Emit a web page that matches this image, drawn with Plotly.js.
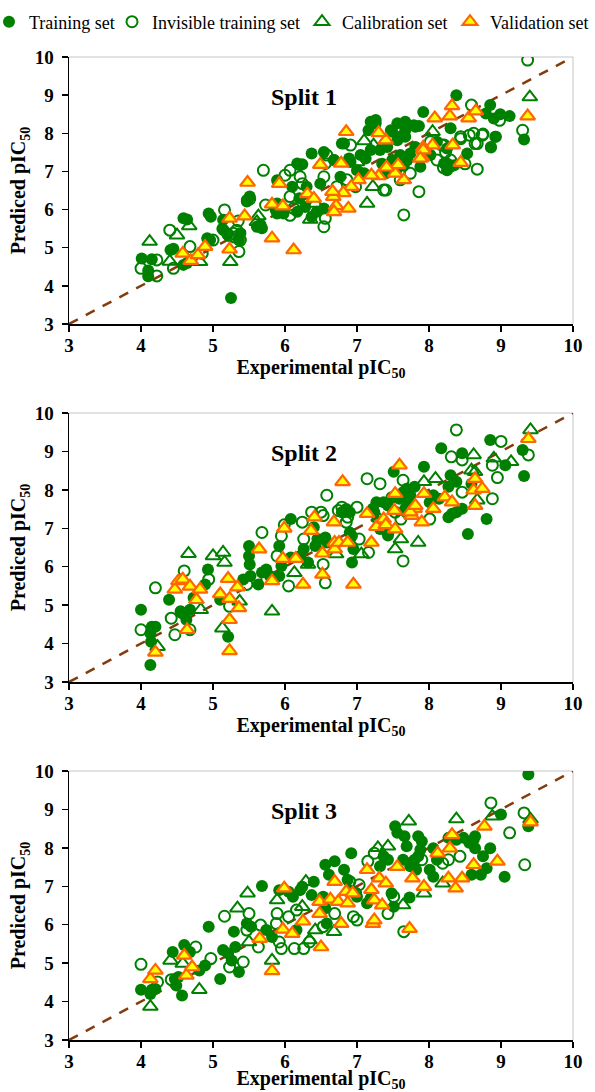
<!DOCTYPE html>
<html><head><meta charset="utf-8">
<script src="https://cdn.plot.ly/plotly-3.0.1.min.js"></script>
<style>html,body{margin:0;padding:0;background:#fff}#chart{width:595px;height:1092px}</style>
</head><body><div id="chart"></div>
<script>
// ---------- DATA: [experimental, predicted] ----------
const split1Training = [[4.01,4.72],[4.10,4.40],[4.10,4.25],[4.15,4.70],[4.41,4.94],[4.45,4.97],[4.59,5.77],[4.64,5.74],[4.59,4.55],[4.64,4.60],[4.92,5.25],[4.96,5.20],[4.94,5.90],[4.97,5.81],[5.14,5.73],[5.13,5.50],[5.15,5.46],[5.25,3.68],[5.36,5.20],[5.38,5.38],[5.47,6.21],[5.51,6.34],[5.61,5.55],[5.66,5.60],[5.68,5.51],[5.89,6.77],[5.89,5.90],[6.10,6.60],[6.17,7.21],[6.21,7.16],[6.30,6.60],[6.20,6.30],[6.49,6.68],[6.28,6.07],[6.44,5.94],[6.54,6.03],[6.37,5.81],[5.87,5.99],[5.89,6.16],[5.98,5.90],[6.17,5.94],[5.20,5.35],[5.47,6.25],
[9.32,7.84],[8.38,9.00],[8.85,8.74],[8.99,8.50],[9.12,8.45],[8.90,8.39],[8.79,8.52],[8.92,7.91],[8.86,7.63],[8.53,7.47],[8.30,8.13],[8.25,7.21],[8.35,7.16],[8.11,7.78],[7.92,8.56],[7.86,8.19],[7.67,8.30],[7.79,8.21],[7.67,8.08],[7.56,8.26],[7.47,8.08],[7.60,7.91],[6.82,7.73],[6.37,7.47],[6.24,7.19],[6.68,7.30],[6.89,7.34],[7.19,8.30],[7.26,8.35],[7.16,8.08],[6.77,6.86],[8.02,7.43],[8.25,7.03],[7.26,8.26],[7.81,8.17],[7.49,8.04],[6.79,7.73],[8.86,7.64],[8.93,7.91],[8.25,7.60],[8.21,7.21],[8.30,7.12],[7.74,7.47],[7.88,7.12],[7.70,7.30],[7.60,7.43],[7.49,7.30],[7.81,7.64],[7.97,7.51],[7.56,7.82],[7.67,7.91],[7.42,7.64],[7.32,7.56],[6.54,7.51],[6.68,7.30],[7.00,7.03],[7.12,7.34],[7.19,7.56],[6.91,7.25],[7.05,7.43],[7.35,7.20],[7.55,7.05],[7.65,7.15],[7.40,6.95],[7.10,6.95]];
const split1Invisible = [[4.00,4.46],[4.22,4.68],[4.22,4.26],[4.40,5.46],[4.45,4.46],[4.68,5.03],[4.85,4.85],[5.00,5.20],[5.16,5.99],[5.22,5.32],[5.28,5.38],[5.30,5.28],[5.36,4.90],[5.35,5.70],[5.51,6.28],[5.70,7.03],[5.73,6.12],[6.07,7.03],[6.07,6.34],[6.07,5.85],[5.33,5.46],[5.38,5.20],[6.21,6.86],[6.24,6.68],[6.00,6.90],[6.12,6.03],[6.56,5.77],[6.54,5.55],
[9.37,9.92],[9.30,8.08],[8.59,8.74],[8.98,8.34],[8.75,7.98],[8.64,7.73],[8.67,7.06],[8.56,7.95],[8.44,7.91],[8.20,7.10],[8.18,7.69],[7.86,6.47],[7.65,5.86],[7.40,6.51],[6.91,7.69],[6.58,7.43],[6.54,6.86],[6.72,6.60],[8.30,7.30],[8.23,7.50],[8.62,8.00],[8.74,7.95],[8.67,7.73],[8.44,7.86],[8.50,7.20],[6.56,7.21],[6.86,6.78],[6.98,6.60],[7.37,6.51],[7.60,6.78],[7.74,6.95],[8.02,7.78],[8.11,7.30],[8.21,7.69]];
const split1Calibration = [[4.12,5.16],[4.50,5.33],[4.40,4.64],[4.67,5.57],[4.82,4.63],[5.24,4.63],[5.63,5.83],[5.61,5.68],[7.14,6.16],[7.22,6.60],[7.10,7.80],[9.40,8.95],[6.35,5.74],[6.42,6.16],[8.05,8.04],[7.00,7.25],[7.23,7.69]];
const split1Validation = [[4.58,4.85],[4.69,4.66],[4.79,4.81],[4.89,5.03],[5.23,5.77],[5.23,4.96],[5.44,5.83],[5.48,6.71],[5.82,5.25],[5.82,6.14],[5.97,6.09],[5.92,6.68],[6.12,4.94],[9.37,8.45],[8.32,8.72],[8.29,8.45],[8.08,8.40],[8.55,8.40],[8.65,8.58],[8.33,7.69],[8.44,7.23],[8.05,7.69],[7.92,7.63],[7.90,7.37],[7.65,6.78],[7.53,6.95],[7.57,7.17],[7.41,7.11],[7.30,6.88],[7.20,6.90],[7.40,7.82],[7.30,8.01],[7.02,6.78],[6.92,6.60],[6.81,6.44],[6.88,6.03],[6.71,6.10],[6.67,6.34],[6.66,6.47],[6.68,5.94],[6.78,7.21],[6.49,7.18],[6.31,6.41],[6.40,6.29],[7.92,7.56],[7.88,7.34],[6.85,8.04]];

const split2Training = [[4.00,4.88],[4.13,3.44],[4.14,4.05],[4.13,4.27],[4.15,4.44],[4.20,4.44],[4.39,5.14],[4.55,4.84],[4.57,4.79],[4.63,4.62],[4.68,4.88],[4.73,5.19],[4.89,5.54],[4.93,5.93],[5.10,5.14],[5.21,4.18],[5.50,6.54],[5.50,6.28],[5.51,6.06],[5.42,5.67],[5.52,5.76],[5.63,5.54],[5.68,5.85],[5.74,5.93],[5.79,5.76],[5.92,5.76],[5.95,6.02],[5.92,6.54],[6.08,7.24],[6.08,6.24],[6.21,6.28],[6.32,6.11],[6.26,6.46],[6.40,7.03],[6.45,6.72],[6.42,6.54],[6.56,6.76],[6.58,6.63],[6.69,6.54],[6.79,7.42],[6.85,7.50],[6.90,7.42],[6.90,6.89],[6.93,6.80],[6.95,6.46],[6.93,6.11],[7.22,7.51],[7.27,7.68],[7.32,6.98],[7.37,7.68],[7.43,7.59],[7.48,7.81],[7.51,8.47],[7.59,7.77],[7.64,7.94],[7.69,8.03],[7.74,7.86],[7.80,8.08],[7.72,7.68],[7.67,7.51],[7.93,8.60],[8.06,7.86],[8.14,7.77],[8.01,7.68],[8.17,9.08],[8.27,7.29],[8.32,7.38],[8.38,7.42],[8.30,8.38],[8.27,8.08],[8.38,8.21],[8.46,8.95],[8.46,7.51],[8.54,6.85],[8.59,8.16],[8.85,9.30],[8.80,7.24],[9.06,8.64],[9.30,9.04],[9.32,8.36],[7.24,7.42],[7.32,7.16],[7.37,6.98],[7.43,6.81]];
const split2Invisible = [[4.00,4.36],[4.20,5.45],[4.42,4.66],[4.47,4.23],[4.60,5.89],[4.68,4.36],[4.94,5.67],[5.23,4.97],[5.47,5.54],[5.68,6.89],[5.89,6.28],[6.05,5.50],[5.95,6.80],[5.99,7.09],[6.24,7.16],[6.26,6.72],[6.37,7.42],[6.50,7.42],[6.53,7.33],[6.53,6.06],[6.56,5.58],[6.58,7.86],[6.74,7.46],[6.79,7.55],[6.85,7.16],[6.87,7.29],[7.00,7.55],[7.03,6.72],[7.14,8.29],[7.32,8.16],[7.16,6.37],[7.29,7.24],[7.64,6.15],[7.64,8.25],[7.53,7.42],[7.69,7.42],[7.61,7.24],[8.01,7.24],[8.31,8.86],[8.38,9.56],[8.46,8.78],[8.46,7.94],[9.00,9.26],[8.88,8.64],[8.95,8.32],[8.88,7.77],[9.38,8.91],[7.43,6.89]];
const split2Calibration = [[4.23,3.92],[4.66,6.34],[4.83,4.88],[5.00,6.28],[5.13,4.40],[5.14,6.37],[5.16,6.11],[5.37,5.10],[5.82,4.84],[6.13,5.84],[6.32,6.06],[6.71,6.33],[7.06,6.33],[7.53,6.46],[7.61,6.72],[7.85,6.63],[7.93,8.21],[8.09,8.29],[8.62,8.91],[8.59,8.51],[8.64,8.47],[8.67,7.73],[8.90,8.82],[9.14,8.73],[9.41,9.56],[7.53,7.77]];
const split2Validation = [[4.20,3.77],[4.47,5.41],[4.52,5.63],[4.58,5.67],[4.64,4.36],[4.68,5.49],[4.77,5.14],[4.82,5.41],[5.10,5.29],[5.21,5.69],[5.23,5.17],[5.23,4.62],[5.23,3.81],[5.34,5.47],[5.36,4.93],[5.64,6.46],[5.82,5.63],[5.99,7.00],[5.97,6.21],[6.15,6.21],[6.25,5.54],[6.36,6.94],[6.41,7.29],[6.52,6.35],[6.52,5.80],[6.68,7.16],[6.69,6.63],[6.69,6.46],[6.75,6.63],[6.80,8.21],[6.87,6.63],[6.95,5.54],[7.14,7.38],[7.20,6.63],[7.27,7.04],[7.37,7.24],[7.40,7.09],[7.53,6.98],[7.52,7.46],[7.53,7.90],[7.59,8.64],[7.76,7.33],[7.80,7.51],[7.74,7.42],[7.81,7.59],[7.90,7.16],[7.93,7.90],[8.06,7.51],[8.22,7.81],[8.32,7.68],[8.62,7.99],[8.64,8.29],[8.74,8.03],[8.64,7.59],[9.38,9.33]];

const split3Training = [[4.00,4.31],[4.13,4.20],[4.15,4.31],[4.20,4.33],[4.44,5.29],[4.47,4.59],[4.49,4.42],[4.57,4.16],[4.52,4.64],[4.60,5.47],[4.68,5.29],[4.81,4.81],[4.89,4.94],[4.94,5.95],[5.10,4.59],[5.14,5.34],[5.21,5.25],[5.26,5.07],[5.29,5.82],[5.31,5.42],[5.36,4.77],[5.47,6.03],[5.53,5.95],[5.68,7.01],[5.74,5.86],[5.82,5.68],[5.92,6.90],[6.05,6.86],[6.11,6.73],[6.21,6.90],[6.16,5.86],[6.24,6.99],[6.40,7.12],[6.37,6.77],[6.56,7.56],[6.61,7.30],[6.69,7.65],[6.53,6.73],[6.56,6.43],[6.58,6.03],[6.82,7.43],[6.87,7.17],[6.92,7.86],[6.90,6.90],[7.00,6.73],[7.14,6.56],[7.19,6.69],[7.32,7.52],[7.43,7.69],[7.37,7.78],[7.48,6.82],[7.53,8.56],[7.56,8.39],[7.51,6.47],[7.66,8.30],[7.69,8.04],[7.64,7.69],[7.73,6.71],[7.74,7.52],[7.80,7.69],[7.85,7.78],[7.82,7.43],[7.85,8.30],[7.90,8.17],[7.88,7.95],[8.01,7.43],[8.06,7.25],[8.11,7.69],[8.06,7.99],[8.27,8.26],[8.38,8.21],[8.48,8.26],[8.56,8.13],[8.62,8.21],[8.64,7.99],[8.64,8.30],[8.59,7.30],[8.72,7.30],[8.75,7.78],[8.80,7.47],[8.85,7.99],[9.00,8.87],[9.05,7.25],[9.38,9.91],[9.38,8.56]];
const split3Invisible = [[4.00,4.97],[4.23,4.51],[4.42,4.57],[4.76,5.42],[4.97,5.12],[5.16,6.22],[5.23,4.90],[5.42,5.03],[5.50,6.29],[5.47,5.86],[5.63,5.42],[5.66,5.99],[5.88,6.03],[5.92,5.55],[5.95,5.38],[5.89,6.29],[6.05,6.21],[6.13,5.38],[6.16,6.38],[6.26,5.38],[6.34,5.55],[6.53,5.95],[6.69,6.29],[6.90,7.12],[6.98,6.82],[6.95,6.21],[7.00,6.12],[7.03,7.04],[7.15,7.65],[7.24,7.86],[7.43,6.29],[7.51,6.73],[7.65,5.82],[7.90,7.69],[8.19,7.60],[8.27,7.69],[8.43,7.78],[8.86,9.17],[9.12,8.39],[9.32,8.91],[9.33,7.56]];
const split3Calibration = [[4.13,3.87],[4.41,5.07],[4.58,4.99],[4.81,4.31],[5.34,6.43],[5.48,6.82],[5.50,5.55],[5.82,5.07],[5.89,6.64],[6.24,6.47],[6.29,7.12],[6.34,5.60],[6.42,5.86],[6.68,5.82],[7.29,8.00],[7.43,8.04],[7.64,6.51],[7.72,8.69],[7.93,6.82],[8.19,7.08],[8.38,8.75],[8.88,8.82],[9.41,8.74]];
const split3Validation = [[4.13,4.59],[4.20,4.81],[4.60,5.20],[4.63,4.68],[4.71,4.90],[5.65,5.64],[5.82,4.80],[5.99,6.95],[5.97,5.88],[6.10,5.77],[6.25,6.09],[6.48,6.60],[6.48,6.29],[6.50,5.42],[6.63,6.66],[6.69,7.12],[6.74,6.60],[6.78,6.03],[6.85,6.86],[6.87,6.56],[6.94,6.82],[7.14,7.43],[7.20,6.91],[7.22,6.03],[7.24,6.12],[7.24,6.64],[7.31,7.21],[7.35,6.51],[7.40,7.08],[7.56,7.51],[7.73,5.90],[7.77,7.21],[7.93,6.99],[8.12,7.86],[8.29,7.99],[8.27,7.21],[8.32,8.34],[8.37,6.95],[8.46,7.21],[8.62,7.56],[8.77,8.56],[8.95,7.65],[9.41,8.67]];

const seriesNames = ['Training set', 'Invisible training set', 'Calibration set', 'Validation set'];
const splitTitles = ['Split 1', 'Split 2', 'Split 3'];
const identityLine = [3, 10];
const axisRange = [3, 10];
const xTitle = 'Experimental pIC<sub>50</sub>';
const yTitle = 'Prediced pIC<sub>50</sub>';

// ---------- STYLE ----------
const W = 595, H = 1092;
const FONT = '"Times New Roman", "Liberation Serif", serif';
const GREEN = '#008000';
const splits = [
  [split1Training, split1Invisible, split1Calibration, split1Validation],
  [split2Training, split2Invisible, split2Calibration, split2Validation],
  [split3Training, split3Invisible, split3Calibration, split3Validation]
];
const markerStyles = [
  {symbol: 'circle', size: 12, color: GREEN, line: {width: 0}},
  {symbol: 'circle-open', size: 11, color: GREEN, line: {width: 2, color: GREEN}},
  {symbol: 'triangle-up-open', size: 13, color: GREEN, line: {width: 2, color: GREEN}},
  {symbol: 'triangle-up', size: 13, color: '#FFFF00', line: {width: 2.2, color: '#FF6600'}}
];
const legendIds = ['legend', 'legend2', 'legend3', 'legend4'];
const panelPx = [[57, 324], [413, 682], [771, 1040]];
const ML = 69, MR = 22;

const traces = [];
const layout = {
  width: W, height: H,
  margin: {l: ML, r: MR, t: 0, b: 0, autoexpand: false},
  paper_bgcolor: '#fff', plot_bgcolor: '#fff',
  font: {family: FONT, color: '#000'},
  annotations: [], shapes: []
};

splits.forEach((sets, i) => {
  const xs = i === 0 ? 'x' : 'x' + (i + 1);
  const ys = i === 0 ? 'y' : 'y' + (i + 1);
  traces.push({x: identityLine, y: identityLine, xaxis: xs, yaxis: ys, mode: 'lines',
    line: {color: '#843C0C', width: 2.5, dash: '10px,9px'}, showlegend: false, hoverinfo: 'skip'});
  sets.forEach((pts, k) => {
    traces.push({
      x: pts.map(p => p[0]), y: pts.map(p => p[1]), xaxis: xs, yaxis: ys,
      mode: 'markers', type: 'scatter', name: seriesNames[k],
      marker: markerStyles[k], showlegend: i === 0, legend: legendIds[k]
    });
  });
  const [top, bot] = panelPx[i];
  const dom = [1 - bot / H, 1 - top / H];
  const tickfont = {family: FONT, size: 19, color: '#000', weight: 'bold'};
  const titleFont = {family: FONT, size: 20, color: '#000', weight: 'bold'};
  const axBase = {range: axisRange, dtick: 1, tick0: 3, ticks: 'outside', ticklen: 6, tickwidth: 1.5,
    tickcolor: '#000', showline: true, linecolor: '#000', linewidth: 1.5, showgrid: false,
    zeroline: false, tickfont: tickfont, fixedrange: true, automargin: false};
  layout[i === 0 ? 'xaxis' : 'xaxis' + (i + 1)] = Object.assign({}, axBase, {
    domain: [0, 1], anchor: ys, ticklabelstandoff: -2,
    title: {text: xTitle, font: titleFont, standoff: 2}
  });
  layout[i === 0 ? 'yaxis' : 'yaxis' + (i + 1)] = Object.assign({}, axBase, {
    domain: dom, anchor: xs, ticklabelstandoff: 4,
    title: {text: yTitle, font: titleFont, standoff: 3}
  });
  layout.annotations.push({text: splitTitles[i], xref: xs + ' domain', yref: ys + ' domain',
    x: 0.466, y: 0.852, showarrow: false, xanchor: 'center', yanchor: 'middle',
    font: {family: FONT, size: 24, color: '#000', weight: 'bold'}});
  layout.shapes.push({type: 'line', xref: xs + ' domain', yref: ys + ' domain', x0: 0, x1: 1, y0: 1, y1: 1,
    line: {color: '#d9d9d9', width: 1.5}, layer: 'below'});
  layout.shapes.push({type: 'line', xref: xs + ' domain', yref: ys + ' domain', x0: 1, x1: 1, y0: 0, y1: 1,
    line: {color: '#d9d9d9', width: 1.5}, layer: 'below'});
});

// legend text start positions (px)
const legendTextX = [29, 152, 342, 490];
legendIds.forEach((id, k) => {
  const left = legendTextX[k] - 40;
  layout[id] = {orientation: 'h', xref: 'container', yref: 'container',
    x: Math.max(left, 0) / W, xanchor: 'left', y: 1 - 22 / H, yanchor: 'middle',
    indentation: Math.max(-15, Math.min(0, left)),
    bgcolor: 'rgba(0,0,0,0)', borderwidth: 0, font: {family: FONT, size: 18, color: '#000'}};
});

Plotly.newPlot('chart', traces, layout, {displayModeBar: false, staticPlot: true});
</script></body></html>
